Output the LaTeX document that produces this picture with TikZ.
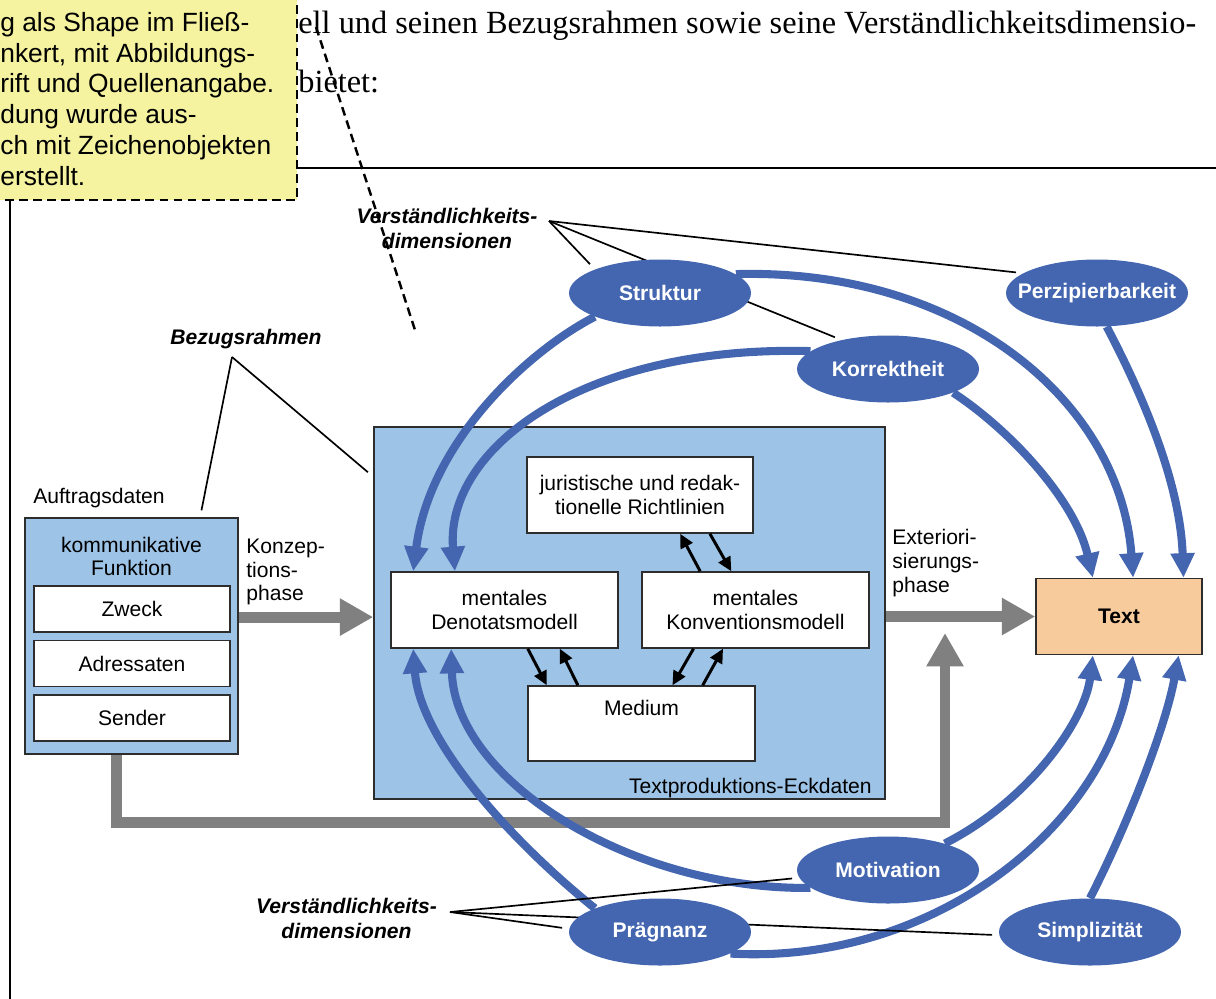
\documentclass[tikz,border=0pt]{standalone}
\usepackage{fontspec}
\setsansfont{Liberation Sans}
\newfontfamily\bodyserif{Liberation Serif}
\usepackage{tikz}
\usetikzlibrary{arrows.meta, positioning, shapes.geometric}
\pgfdeclarelayer{front}
\pgfsetlayers{main,front}

\definecolor{dimblue}{RGB}{68,102,176}
\definecolor{boxblue}{RGB}{157,195,230}
\definecolor{textpeach}{RGB}{248,203,156}
\definecolor{notegelb}{RGB}{245,243,160}
\definecolor{phasegray}{RGB}{128,128,128}
\definecolor{rimgray}{RGB}{45,45,45}

\newdimen\pxu \pxu=0.02cm

\begin{document}
\begin{tikzpicture}[x=0.02cm,y=-0.02cm,
        every node/.style={inner sep=0pt,font=\sffamily\fontsize{12}{13.4}\selectfont},
        databox/.style={draw=rimgray,line width=0.85pt,fill=boxblue},
        whitebox/.style={draw=rimgray,line width=0.85pt,fill=white,align=center},
        dim/.style={ellipse,fill=dimblue,minimum width=182\pxu,minimum height=67\pxu,text=white,
            font=\sffamily\bfseries\fontsize{12}{13.4}\selectfont,
            execute at begin node={\hbox to 0pt\bgroup\hss},execute at end node={\hss\egroup}},
        dimlabel/.style={align=center,font=\sffamily\bfseries\itshape\fontsize{12}{14.2}\selectfont},
        pointer/.style={line width=0.95pt,shorten >=4pt},
        flow/.style={draw=dimblue,line width=4.6pt,-{Triangle[length=14pt,width=13pt]}},
        phase/.style={draw=phasegray,line width=6.2pt,-{Triangle[length=19pt,width=20pt]}},
        link/.style={line width=1.7pt,-{Triangle[length=8pt,width=7.5pt]}},
        notedash/.style={line width=1.4pt,dash pattern=on 5pt off 3pt}]

        \useasboundingbox (0,0) rectangle (1216,998);
        \clip (0,0) rectangle (1216,998);

        % Verstaendlichkeitsdimensionen
        \begin{pgfonlayer}{front}
        \node[dim] (struktur) at (660,293) {Struktur};
        \node[dim] (korrektheit) at (888,369) {Korrektheit};
        \node[dim] (perzip) at (1097,293) {Perzipierbarkeit};
        \node[dim] (motivation) at (888,870) {Motivation};
        \node[dim] (praegnanz) at (660,932) {Prägnanz};
        \node[dim] (simplizitaet) at (1090,932) {Simplizität};
        \end{pgfonlayer}

        % Fliesstext und Rahmen
        \draw[line width=0.85pt] (10,1010) |- (1230,168);
        \node[anchor=base west,font=\bodyserif\fontsize{18.4}{22}\selectfont] (zeile1) at (298,33)
            {ell und seinen Bezugsrahmen sowie seine Verständlichkeitsdimensio-};
        \node[anchor=base west,font=\bodyserif\fontsize{18.4}{22}\selectfont] (zeile2) at (298,92) {bietet:};

        \draw[notedash,fill=notegelb] (-10,-10) rectangle (297,200);
        \node[anchor=north west,align=left,font=\sffamily\fontsize{15}{17.5}\selectfont] (notiz) at (0,12)
            {g als Shape im Fließ-\\nkert, mit Abbildungs-\\rift und Quellenangabe.\\dung wurde aus-\\ch mit Zeichenobjekten\\erstellt.};
        \coordinate (zeigerA) at (316,27);
        \coordinate (zeigerB) at (415,330);
        \draw[notedash] (zeigerA) -- (zeigerB);

        % Auftragsdaten
        \node[databox,minimum width=213\pxu,minimum height=236\pxu] (auftr) at (131.5,636) {};
        \node[anchor=west] (auftragsdaten) at (33,498) {Auftragsdaten};
        \node[align=center] (funktion) at (131.5,556.5) {kommunikative\\Funktion};
        \node[whitebox,minimum width=196\pxu,minimum height=46\pxu] (zweck) at (132,609) {Zweck};
        \node[whitebox,minimum width=196\pxu,minimum height=46\pxu] (adressaten) [below=0.14cm of zweck] {Adressaten};
        \node[whitebox,minimum width=196\pxu,minimum height=46\pxu] (sender) [below=0.14cm of adressaten] {Sender};

        % Textproduktions-Eckdaten
        \node[databox,minimum width=511\pxu,minimum height=372\pxu] (eck) at (629.5,613) {};
        \node[anchor=base east] (eckdaten) at (872,793) {Textproduktions-Eckdaten};
        \node[whitebox,minimum width=226\pxu,minimum height=76\pxu] (richtlinien) at (640,495) {juristische und redak-\\tionelle Richtlinien};
        \node[whitebox,minimum width=227\pxu,minimum height=76\pxu] (denotat) at (504.5,610) {mentales\\Denotatsmodell};
        \node[whitebox,minimum width=227\pxu,minimum height=76\pxu] (konvention) at (755.5,610) {mentales\\Konventionsmodell};
        \node[whitebox,minimum width=227\pxu,minimum height=75\pxu] (medium) at (641.5,723.5) {Medium\\\strut};

        \path[link] (konvention.145) edge (richtlinien.316)
                (richtlinien.331) edge (konvention.122)
                (denotat.301) edge (medium.158)
                (medium.149) edge (denotat.325)
                (konvention.212) edge (medium.51)
                (medium.32) edge (konvention.230);

        % Text
        \node[draw=rimgray,line width=0.85pt,fill=textpeach,minimum width=166\pxu,minimum height=76\pxu,
            font=\sffamily\bfseries\fontsize{12}{13.4}\selectfont] (textbox) at (1119,616.5) {Text};

        % Phasen
        \node[anchor=west,align=left] (konzeption) at (246,572) {Konzep-\\tions-\\phase};
        \node[anchor=west,align=left] (exteriorisierung) at (892,563) {Exteriori-\\sierungs-\\phase};
        \draw[phase] (auftr.10) -- (auftr.10 -| eck.west);
        \draw[phase] (textbox.west -| eck.east) -- (textbox.west);
        \coordinate (rueckTip) at (945,633);
        \draw[phase] (auftr.263) -- ++(0,68) -| (rueckTip);

        % Boegen
        \draw[flow] (struktur.200) .. controls (530,350) and (430,440) .. (denotat.157);
        \draw[flow] (struktur.14) .. controls (960,268) and (1120,400) .. (textbox.70);
        \draw[flow] (korrektheit.167) .. controls (580,345) and (445,450) .. (denotat.142);
        \draw[flow] (korrektheit.340) .. controls (1010,430) and (1075,500) .. (textbox.124);
        \draw[flow] (perzip.286) .. controls (1140,390) and (1180,480) .. (textbox.31);
        \draw[flow] (motivation.25) .. controls (1030,800) and (1085,720) .. (textbox.236);
        \draw[flow] (motivation.193) .. controls (630,890) and (455,780) .. (denotat.216);
        \draw[flow] (praegnanz.160) .. controls (510,840) and (420,740) .. (denotat.203);
        \draw[flow] (praegnanz.343) .. controls (930,965) and (1105,830) .. (textbox.290);
        \draw[flow] (simplizitaet.north) .. controls (1125,830) and (1165,730) .. (textbox.327);

        % Beschriftungen
        \node[dimlabel] (dimoben) at (447,228) {Verständlichkeits-\\dimensionen};
        \node[dimlabel] (dimunten) at (346.5,918.5) {Verständlichkeits-\\dimensionen};
        \node[dimlabel] (bezug) at (246,339) {Bezugsrahmen};
        \coordinate (dimobenPt) at (549,221);
        \coordinate (dimuntenPt) at (450,912);
        \coordinate (bezugPt) at (232,357);

        \draw[pointer] (dimobenPt) -- (struktur.160);
        \draw[pointer] (dimobenPt) -- (korrektheit.148);
        \draw[pointer] (dimobenPt) -- (perzip.165);
        \draw[pointer] (dimuntenPt) -- (motivation.185);
        \draw[pointer] (dimuntenPt) -- (praegnanz.178);
        \draw[pointer] (dimuntenPt) -- (simplizitaet.182);
        \draw[pointer] (bezugPt) -- (auftr.60);
        \draw[pointer] (bezugPt) -- (eck.152);
\end{tikzpicture}
\end{document}
